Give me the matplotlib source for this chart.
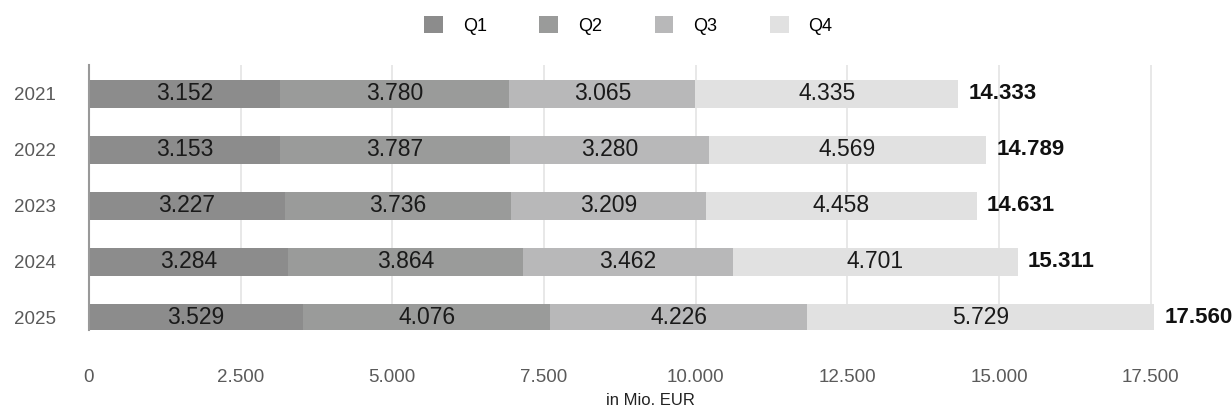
import numpy as np
import matplotlib.pyplot as plt

plt.rcParams['font.family'] = ['Liberation Sans', 'DejaVu Sans']

years = ['2021', '2022', '2023', '2024', '2025']
q1 = [3152, 3153, 3227, 3284, 3529]
q2 = [3780, 3787, 3736, 3864, 4076]
q3 = [3065, 3280, 3209, 3462, 4226]
q4 = [4335, 4569, 4458, 4701, 5729]
totals = [14333, 14789, 14631, 15311, 17560]
quarters = ['Q1', 'Q2', 'Q3', 'Q4']
colors = ['#8c8c8c', '#9a9b9a', '#b8b8b9', '#e1e1e1']


def de_fmt(v):
    return f'{v:,.0f}'.replace(',', '.')


fig = plt.figure(figsize=(12.32, 4.12), dpi=100)
ax = fig.add_axes([0.0722, 0.198, 0.911, 0.645])

y = np.arange(len(years))
left = np.zeros(len(years))
for name, vals, c in zip(quarters, [q1, q2, q3, q4], colors):
    ax.barh(y, vals, left=left, height=0.5, color=c, label=name, zorder=2)
    for yi, l, v in zip(y, left, vals):
        ax.text(l + v / 2, yi, de_fmt(v), ha='center', va='center',
                fontsize=16.5, color='#1a1a1a', zorder=3)
    left += np.array(vals)

# total at the end of each stacked bar
for yi, end, tot in zip(y, left, totals):
    ax.text(end + 165, yi, de_fmt(tot), ha='left', va='center',
            fontsize=16, fontweight='bold', color='#111111')

ax.set_xlim(0, 18500)
ax.set_ylim(4.23, -0.52)
ax.set_yticks(y, years)
ticks = np.arange(0, 17501, 2500)
ax.set_xticks(ticks)
ax.set_xticklabels([de_fmt(t) for t in ticks])
ax.tick_params(axis='x', length=0, pad=28, labelsize=13.5, labelcolor='#5a5a5a')
ax.tick_params(axis='y', length=0, pad=24, labelsize=13.5, labelcolor='#5a5a5a')
ax.grid(axis='x', color='#e4e4e4', linewidth=1.2, zorder=0)
for s in ['top', 'right', 'bottom']:
    ax.spines[s].set_visible(False)
ax.spines['left'].set_color('#999999')
ax.spines['left'].set_linewidth(1.5)
ax.spines['left'].set_zorder(4)

ax.set_xlabel('in Mio. EUR', fontsize=12, color='#222222', labelpad=5)

fig.legend(loc='upper center', bbox_to_anchor=(0.51, 1.0), ncol=4, frameon=False,
           fontsize=13, handlelength=1.05, handleheight=1.05, columnspacing=2.9,
           handletextpad=1.1)

fig.savefig('out.png', dpi=100)
